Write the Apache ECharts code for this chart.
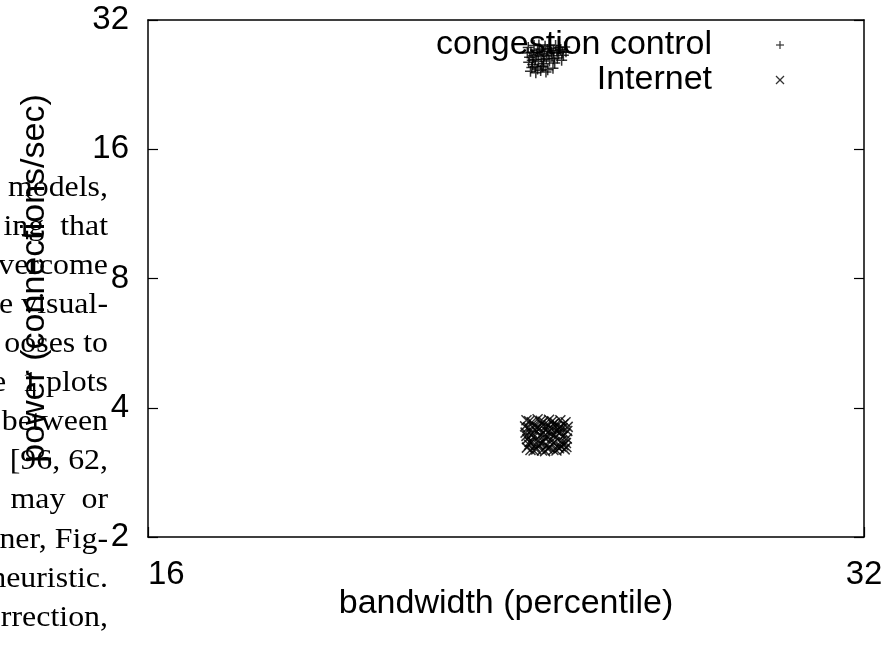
<!DOCTYPE html>
<html>
<head>
<meta charset="utf-8">
<script src="https://cdn.jsdelivr.net/npm/echarts@6/dist/echarts.min.js"></script>
<style>
  html, body { margin: 0; padding: 0; background: #fff; }
  #chart { width: 889px; height: 646px; }
</style>
</head>
<body>
<div id="chart"></div>
<script>
// data (bandwidth, power)
const seriesNames = ['congestion control', 'Internet']
const congestionControl = [
  [23.12, 27.6], [23.25, 27.9], [23.38, 27.4], [23.5, 27.8], [23.62, 27.5], [23.74, 27.9],
  [23.86, 27.3], [23.95, 27.7], [23.18, 26.9], [23.31, 26.6], [23.44, 27.0], [23.57, 26.7],
  [23.69, 27.1], [23.81, 26.8], [23.92, 26.5], [23.15, 26.2], [23.28, 25.9], [23.41, 26.3],
  [23.53, 26.0], [23.66, 26.4], [23.78, 26.1], [23.88, 25.8], [23.13, 25.5], [23.22, 25.2],
  [23.35, 25.6], [23.47, 25.3], [23.6, 25.7], [23.72, 25.4], [23.2, 24.8], [23.33, 24.6],
  [23.45, 24.9], [23.56, 24.5], [23.68, 24.7], [23.17, 24.3], [23.29, 24.1], [23.4, 24.4],
  [23.52, 24.2], [23.98, 27.0], [23.83, 27.6], [23.36, 28.0], [23.6, 28.0], [23.24, 26.4],
  [23.48, 26.5], [23.7, 26.0], [23.9, 26.9], [23.1, 26.8], [23.42, 25.0], [23.27, 24.9],
  [23.55, 27.3], [23.77, 27.2], [23.33, 27.2], [23.64, 26.9], [23.46, 25.9], [23.21, 25.8]
]
const internet = [
  [23.08, 3.74], [23.2, 3.7], [23.33, 3.76], [23.46, 3.71], [23.59, 3.75], [23.72, 3.69],
  [23.85, 3.74], [23.97, 3.7], [23.12, 3.6], [23.25, 3.64], [23.38, 3.58], [23.51, 3.62],
  [23.64, 3.57], [23.77, 3.63], [23.9, 3.59], [24.02, 3.61], [23.06, 3.5], [23.19, 3.46],
  [23.31, 3.52], [23.44, 3.48], [23.57, 3.51], [23.7, 3.45], [23.83, 3.5], [23.96, 3.47],
  [23.1, 3.38], [23.23, 3.41], [23.36, 3.36], [23.49, 3.4], [23.62, 3.37], [23.75, 3.42],
  [23.88, 3.35], [24.0, 3.39], [23.14, 3.28], [23.27, 3.25], [23.4, 3.3], [23.53, 3.26],
  [23.66, 3.29], [23.79, 3.24], [23.92, 3.27], [23.17, 3.19], [23.3, 3.2], [23.43, 3.18],
  [23.56, 3.21], [23.69, 3.19], [23.82, 3.22], [23.95, 3.2], [23.28, 3.55], [23.55, 3.43],
  [23.8, 3.56], [23.15, 3.33], [23.68, 3.66], [23.42, 3.67], [23.14, 3.72], [23.4, 3.73],
  [23.66, 3.72], [23.92, 3.66], [23.05, 3.62], [23.32, 3.61], [23.58, 3.64], [23.84, 3.61],
  [23.16, 3.53], [23.5, 3.55], [23.76, 3.53], [24.01, 3.53], [23.08, 3.44], [23.38, 3.44],
  [23.64, 3.47], [23.9, 3.43], [23.2, 3.34], [23.46, 3.33], [23.72, 3.33], [23.98, 3.31],
  [23.09, 3.23], [23.35, 3.27], [23.6, 3.23], [23.86, 3.25], [23.24, 3.18], [23.5, 3.17],
  [23.76, 3.18], [23.99, 3.24]
]
const xRange = [16, 32]
const yRange = [2, 32]

// body text of the page the plot was pasted over
const bleedLines = [
  'models,', 'ing  that', 'vercome', 'e visual-', 'ooses to', 'e  1 plots',
  'between', '[96, 62,', 'may  or', 'ner, Fig-', 'heuristic.', 'rrection,'
]

const sans = 'Liberation Sans, Arial, sans-serif'
const plusPath = 'path://M0,5L10,5M5,0L5,10'
const crossPath = 'path://M0,0L10,10M10,0L0,10'

const chart = echarts.init(document.getElementById('chart'))

const axisLine = { show: true, lineStyle: { color: '#000', width: 1.5 } }
const tick = { show: true, inside: true, length: 10, lineStyle: { color: '#000', width: 1.2 } }

const bleed = bleedLines.map((line, i) => ({
  type: 'text',
  x: 108,
  y: 188 + i * 39.1,
  scaleX: 1.1,
  z: 1,
  style: {
    text: line,
    font: '29px "Liberation Serif", "Times New Roman", serif',
    fill: '#000',
    textAlign: 'right',
    textVerticalAlign: 'middle'
  }
}))

function legendMark(x, y, cross) {
  const a = cross ? [[-4, -4, 4, 4], [4, -4, -4, 4]] : [[-4, 0, 4, 0], [0, -4, 0, 4]]
  return {
    type: 'group',
    x: x,
    y: y,
    children: a.map(s => ({
      type: 'line',
      shape: { x1: s[0], y1: s[1], x2: s[2], y2: s[3] },
      style: { stroke: '#333', lineWidth: 1.2 }
    }))
  }
}

chart.setOption({
  animation: false,
  backgroundColor: '#fff',
  grid: { left: 148, right: 25, top: 20, bottom: 109 },
  xAxis: [
    {
      type: 'log',
      logBase: 2,
      min: xRange[0],
      max: xRange[1],
      axisLine: axisLine,
      axisTick: tick,
      splitLine: { show: false },
      axisLabel: {
        color: '#000', fontSize: 33, fontFamily: sans, margin: 21,
        alignMinLabel: 'left'
      },
      name: 'bandwidth (percentile)',
      nameLocation: 'middle',
      nameGap: 50,
      nameMoveOverlap: false,
      nameTextStyle: { color: '#000', fontSize: 34, fontFamily: sans }
    },
    {
      type: 'log',
      logBase: 2,
      position: 'top',
      min: xRange[0],
      max: xRange[1],
      axisLine: axisLine,
      axisTick: { show: false },
      axisLabel: { show: false },
      splitLine: { show: false }
    }
  ],
  yAxis: [
    {
      type: 'log',
      logBase: 2,
      min: yRange[0],
      max: yRange[1],
      splitNumber: 4,
      axisLine: axisLine,
      axisTick: tick,
      splitLine: { show: false },
      axisLabel: { color: '#000', fontSize: 33, fontFamily: sans, margin: 19 },
      name: 'power (connections/sec)',
      nameLocation: 'middle',
      nameRotate: 90,
      nameGap: 96,
      nameTextStyle: { color: '#000', fontSize: 34, fontFamily: sans }
    },
    {
      type: 'log',
      logBase: 2,
      position: 'right',
      min: yRange[0],
      max: yRange[1],
      splitNumber: 4,
      axisLine: axisLine,
      axisTick: tick,
      axisLabel: { show: false },
      splitLine: { show: false }
    }
  ],
  graphic: [
    ...bleed,
    {
      type: 'text', x: 712, y: 45, z: 10,
      style: { text: seriesNames[0], font: '34px ' + sans, fill: '#000', textAlign: 'right', textVerticalAlign: 'middle' }
    },
    {
      type: 'text', x: 712, y: 80, z: 10,
      style: { text: seriesNames[1], font: '34px ' + sans, fill: '#000', textAlign: 'right', textVerticalAlign: 'middle' }
    },
    legendMark(780, 45, false),
    legendMark(780, 80, true)
  ],
  series: [
    {
      name: seriesNames[0],
      type: 'scatter',
      symbol: plusPath,
      symbolSize: 11,
      z: 20,
      itemStyle: { color: 'transparent', borderColor: '#000', borderWidth: 1.5 },
      data: congestionControl
    },
    {
      name: seriesNames[1],
      type: 'scatter',
      symbol: crossPath,
      symbolSize: 10,
      z: 20,
      itemStyle: { color: 'transparent', borderColor: '#000', borderWidth: 1.5 },
      data: internet
    }
  ]
})
</script>
</body>
</html>
